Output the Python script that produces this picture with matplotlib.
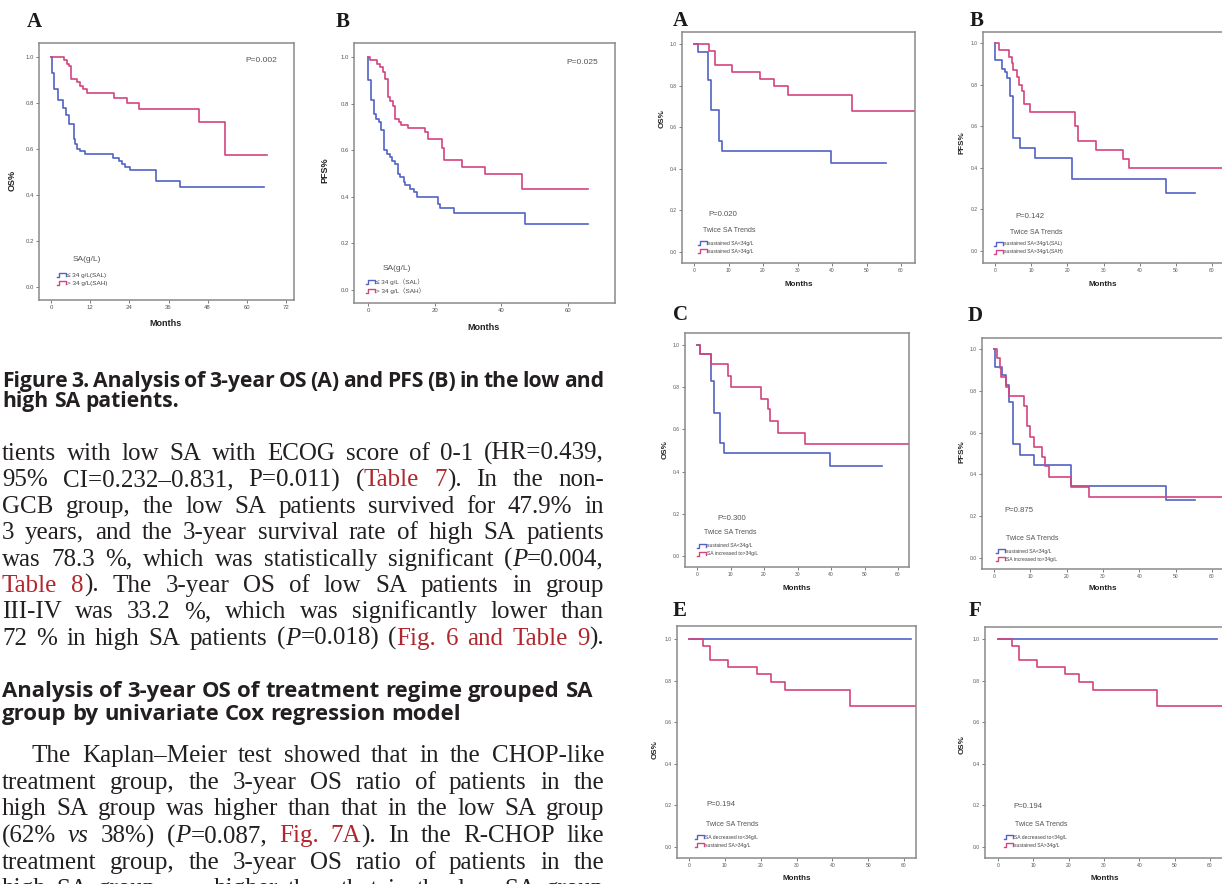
import matplotlib
matplotlib.use('Agg')
import matplotlib.pyplot as plt
from matplotlib.lines import Line2D

# ---- survival curve data (months, survival fraction) ----
# left panel A: OS by SA level
oa_low_t = [0, 0.3, 1.0, 2.0, 3.8, 4.5, 5.5, 7.0, 7.5, 8.0, 9.0, 10.4, 19.1, 20.7, 21.7, 22.7, 24.2, 32.2, 39.4, 65.4]
oa_low_s = [1.0, 0.93, 0.86, 0.815, 0.78, 0.75, 0.71, 0.645, 0.62, 0.60, 0.59, 0.578, 0.56, 0.55, 0.535, 0.52, 0.507, 0.46, 0.436, 0.436]
oa_high_t = [0, 4.0, 4.8, 5.5, 6.1, 8.1, 8.9, 9.9, 11.1, 19.3, 23.2, 27.1, 45.4, 53.4, 66.2]
oa_high_s = [1.0, 0.985, 0.97, 0.96, 0.904, 0.89, 0.875, 0.86, 0.845, 0.823, 0.80, 0.773, 0.717, 0.575, 0.575]
# left panel B: PFS by SA level
pb_low_t = [0, 0.1, 0.9, 1.7, 2.5, 3.2, 4.0, 4.9, 5.7, 6.5, 7.2, 8.0, 8.9, 9.7, 10.7, 11.2, 12.7, 13.7, 14.7, 20.9, 21.6, 25.9, 47.1, 66.0]
pb_low_s = [1.0, 0.903, 0.815, 0.755, 0.735, 0.72, 0.685, 0.60, 0.585, 0.57, 0.555, 0.54, 0.50, 0.485, 0.465, 0.45, 0.435, 0.42, 0.40, 0.368, 0.35, 0.33, 0.284, 0.284]
pb_high_t = [0, 0.7, 2.7, 3.7, 4.5, 5.2, 6.0, 6.7, 7.5, 8.0, 9.2, 10.0, 12.0, 17.1, 18.1, 22.1, 22.8, 28.1, 35.1, 46.1, 66.0]
pb_high_s = [1.0, 0.985, 0.97, 0.955, 0.935, 0.905, 0.83, 0.81, 0.79, 0.735, 0.72, 0.71, 0.695, 0.68, 0.65, 0.61, 0.56, 0.53, 0.497, 0.435, 0.435]
# right panels: twice SA trends
ra_low_t = [0, 1.2, 4.1, 5.0, 7.3, 8.1, 39.6, 55.6]
ra_low_s = [1.0, 0.96, 0.828, 0.683, 0.535, 0.487, 0.427, 0.427]
ra_high_t = [0, 4.3, 6.0, 11.1, 19.1, 23.3, 27.3, 45.7, 65.0]
ra_high_s = [1.0, 0.967, 0.90, 0.867, 0.833, 0.80, 0.755, 0.68, 0.68]
rb_low_t = [0, 0.05, 2.0, 2.8, 3.2, 4.2, 5.1, 6.9, 11.1, 21.2, 47.3, 55.2]
rb_low_s = [1.0, 0.92, 0.875, 0.86, 0.83, 0.745, 0.545, 0.495, 0.445, 0.345, 0.277, 0.277]
rb_high_t = [0, 1.1, 4.0, 4.6, 5.1, 6.0, 6.5, 7.4, 8.1, 9.8, 22.2, 22.9, 28.0, 35.3, 37.1, 66.0]
rb_high_s = [1.0, 0.967, 0.935, 0.905, 0.87, 0.835, 0.80, 0.77, 0.705, 0.67, 0.60, 0.53, 0.485, 0.44, 0.397, 0.397]
rc_low_t = [0, 1.0, 4.2, 5.0, 7.0, 8.0, 39.6, 55.2]
rc_low_s = [1.0, 0.955, 0.83, 0.68, 0.535, 0.487, 0.427, 0.427]
rc_up_t = [0, 1.0, 4.2, 9.2, 10.1, 19.1, 21.1, 21.9, 24.2, 32.1, 65.0]
rc_up_s = [1.0, 0.955, 0.91, 0.855, 0.80, 0.745, 0.695, 0.64, 0.585, 0.533, 0.533]
rd_low_t = [0, 0.2, 2.3, 3.2, 4.1, 5.1, 7.1, 11.0, 21.2, 47.3, 55.2]
rd_low_s = [1.0, 0.915, 0.875, 0.83, 0.745, 0.545, 0.495, 0.445, 0.345, 0.277, 0.277]
rd_up_t = [0, 0.9, 1.6, 2.0, 3.2, 4.1, 8.2, 9.1, 10.0, 11.0, 13.1, 14.0, 15.1, 21.1, 26.2, 66.0]
rd_up_s = [1.0, 0.955, 0.91, 0.865, 0.82, 0.775, 0.725, 0.63, 0.58, 0.53, 0.485, 0.44, 0.387, 0.34, 0.29, 0.29]
re_down_t = [0, 62.0]
re_down_s = [1.0, 1.0]
re_high_t = [0, 3.9, 6.0, 10.9, 19.0, 23.0, 26.9, 44.9, 66.0]
re_high_s = [1.0, 0.967, 0.90, 0.867, 0.833, 0.795, 0.755, 0.68, 0.68]

yticks = [0.0, 0.2, 0.4, 0.6, 0.8, 1.0]
xticks_a = [0, 12, 24, 36, 48, 60, 72]
xticks_b = [0, 20, 40, 60]
xticks_r = [0, 10, 20, 30, 40, 50, 60]

caption = ["Figure 3. Analysis of 3-year OS (A) and PFS (B) in the low and",
           "high SA patients."]
para1 = ["tients with low SA with ECOG score of 0-1 (HR=0.439,",
         "95% CI=0.232\u20130.831, P=0.011) ([Table 7]). In the non-",
         "GCB group, the low SA patients survived for 47.9% in",
         "3 years, and the 3-year survival rate of high SA patients",
         "was 78.3 %, which was statistically significant (<P>=0.004,",
         "[Table 8]). The 3-year OS of low SA patients in group",
         "III-IV was 33.2 %, which was significantly lower than",
         "72 % in high SA patients (<P>=0.018) ([Fig. 6 and Table 9])."]
heading = ["Analysis of 3-year OS of treatment regime grouped SA",
           "group by univariate Cox regression model"]
para2 = ["The Kaplan\u2013Meier test showed that in the CHOP-like",
         "treatment group, the 3-year OS ratio of patients in the",
         "high SA group was higher than that in the low SA group",
         "(62% <vs> 38%) (<P>=0.087, [Fig. 7A]). In the R-CHOP like",
         "treatment group, the 3-year OS ratio of patients in the",
         "high SA group was higher than that in the low SA group"]

W, H = 1222, 884
fig = plt.figure(figsize=(W / 100, H / 100), dpi=100)
fig.patch.set_facecolor('white')

BLUE = '#5262c6'
PINK = '#d4447e'
TXT = '#231f20'
RED = '#b1272d'
SMALL = '#555555'
SANS = ['Liberation Sans', 'DejaVu Sans', 'Noto Sans CJK SC']


def fx(x):
    return x / W


def fy(y):
    return 1 - y / H


def km_panel(box, x0px, xrefpx, xref, y1px, y0px, xticks, curves, tsize):
    l, t, r, b = box
    ax = fig.add_axes([fx(l), fy(b), (r - l) / W, (b - t) / H])
    pxm = (xrefpx - x0px) / xref
    pyu = y0px - y1px
    ax.set_xlim((l - x0px) / pxm, (r - x0px) / pxm)
    ax.set_ylim((y0px - b) / pyu, (y0px - t) / pyu)
    for tt, ss, c in curves:
        ax.step(tt, ss, where='post', color=c, lw=1.2)
    ax.set_xticks(xticks)
    ax.set_xticklabels([str(v) for v in xticks])
    ax.set_yticks(yticks)
    ax.set_yticklabels(['%.1f' % v for v in yticks])
    ax.tick_params(labelsize=tsize, colors='#666666', labelcolor='#555555',
                   length=2.5, width=0.6, pad=1.2)
    for lab in ax.get_xticklabels() + ax.get_yticklabels():
        lab.set_family(SANS)
    for sp in ax.spines.values():
        sp.set_color('#8a8a8a')
        sp.set_linewidth(1.1)
    return ax


def legend_item(x, y, color, label, size):
    xs = [x, x + 2, x + 2, x + 9, x + 9]
    ys = [y + 2, y + 2, y - 2, y - 2, y + 1]
    fig.add_artist(Line2D([fx(v) for v in xs], [fy(v) for v in ys],
                          color=color, lw=1.0, transform=fig.transFigure))
    fig.text(fx(x + 10), fy(y), label, fontsize=size, color='#444444',
             family=SANS, va='center', ha='left')


def ptext(x, y, s, size, ha='left'):
    fig.text(fx(x), fy(y), s, fontsize=size, color=SMALL, family=SANS,
             va='center', ha=ha)


def letter(x, yb, s):
    fig.text(fx(x), fy(yb), s, fontsize=15, weight='bold', family='Liberation Serif',
             color='#1a1a1a', va='baseline', ha='left')


def axis_labels(xl, yl, xtxt, ylab, size):
    fig.text(fx(xl[0]), fy(xl[1]), xtxt, fontsize=size, weight='bold', family=SANS,
             color='#222222', ha='center', va='center')
    fig.text(fx(yl[0]), fy(yl[1]), ylab, fontsize=size, weight='bold', family=SANS,
             color='#222222', ha='center', va='center', rotation=90)


# ---- left panels ----
km_panel((39, 43, 294, 300), 51, 286, 72, 57, 287, xticks_a,
         [(oa_low_t, oa_low_s, BLUE), (oa_high_t, oa_high_s, PINK)], 4.3)
letter(27, 27, 'A')
ptext(277, 60, 'P=0.002', 6.0, ha='right')
ptext(73, 259, 'SA(g/L)', 6.0)
legend_item(57, 275, BLUE, '\u2264 34 g/L(SAL)', 4.6)
legend_item(57, 283, PINK, '> 34 g/L(SAH)', 4.6)
axis_labels((165, 323), (12, 180), 'Months', 'OS%', 6.5)

km_panel((354, 43, 615, 303), 368, 568, 60, 57, 290, xticks_b,
         [(pb_low_t, pb_low_s, BLUE), (pb_high_t, pb_high_s, PINK)], 4.3)
letter(336, 27, 'B')
ptext(598, 62, 'P=0.025', 6.0, ha='right')
ptext(383, 268, 'SA(g/L)', 6.0)
legend_item(366, 282, BLUE, '\u2264 34 g/L\uff08SAL\uff09', 4.6)
legend_item(366, 291, PINK, '> 34 g/L\uff08SAH\uff09', 4.6)
axis_labels((484, 327), (325, 170), 'Months', 'PFS%', 6.5)

# ---- right panels ----
right = [
    ((682, 32, 915, 263), 694, 901, 44, 252, (ra_low_t, ra_low_s), (ra_high_t, ra_high_s),
     'A', (673, 26), 'P=0.020', (708, 215), (703, 230), (698, 243, 251),
     ['sustained SA<34g/L', 'sustained SA>34g/L'], (799, 285), (662, 119), 'OS%'),
    ((983, 32, 1227, 263), 995, 1212, 43, 251, (rb_low_t, rb_low_s), (rb_high_t, rb_high_s),
     'B', (970, 26), 'P=0.142', (1015, 217), (1010, 232), (994, 244, 252),
     ['sustained SA<34g/L(SAL)', 'sustained SA>34g/L(SAH)'], (1103, 284), (962, 143), 'PFS%'),
    ((685, 333, 909, 567), 697, 898, 345, 556, (rc_low_t, rc_low_s), (rc_up_t, rc_up_s),
     'C', (673, 320), 'P=0.300', (717, 518), (704, 533), (697, 546, 554),
     ['sustained SA<34g/L', 'SA increased to>34g/L'], (797, 589), (665, 450), 'OS%'),
    ((982, 338, 1227, 569), 994, 1212, 349, 558, (rd_low_t, rd_low_s), (rd_up_t, rd_up_s),
     'D', (968, 321), 'P=0.875', (1004, 511), (1006, 539), (996, 551, 559),
     ['sustained SA<34g/L', 'SA increased to>34g/L'], (1103, 589), (962, 452), 'PFS%'),
    ((677, 626, 916, 858), 689, 904, 639, 847, (re_down_t, re_down_s), (re_high_t, re_high_s),
     'E', (673, 616), 'P=0.194', (706, 805), (706, 824), (695, 837, 845),
     ['SA decreased to<34g/L', 'sustained SA>34g/L'], (797, 878), (655, 750), 'OS%'),
    ((985, 627, 1227, 858), 998, 1210, 639, 847, (re_down_t, re_down_s), (re_high_t, re_high_s),
     'F', (969, 616), 'P=0.194', (1013, 806), (1015, 824), (1004, 837, 845),
     ['SA decreased to<34g/L', 'sustained SA>34g/L'], (1105, 878), (962, 745), 'OS%'),
]
for (box, x0, x60, y1, y0, c1, c2, let, lpos, ptxt, ppos, tpos, sym,
     labs, xlpos, ylpos, ylab) in right:
    km_panel(box, x0, x60, 60, y1, y0, xticks_r,
             [(c1[0], c1[1], BLUE), (c2[0], c2[1], PINK)], 3.6)
    letter(lpos[0], lpos[1], let)
    ptext(ppos[0], ppos[1], ptxt, 5.6)
    ptext(tpos[0], tpos[1], 'Twice SA Trends', 5.0)
    legend_item(sym[0], sym[1], BLUE, labs[0], 3.6)
    legend_item(sym[0], sym[2], PINK, labs[1], 3.6)
    axis_labels(xlpos, ylpos, 'Months', ylab, 5.8)

# ---- article text ----
renderer = fig.canvas.get_renderer()


def parse(line):
    words, cur, buf, style = [], [], '', 'n'
    for ch in line:
        if ch in '[]<> ':
            if buf:
                cur.append((buf, style))
                buf = ''
            if ch == ' ':
                if cur:
                    words.append(cur)
                    cur = []
            elif ch == '[':
                style = 'r'
            elif ch == '<':
                style = 'i'
            else:
                style = 'n'
        else:
            buf += ch
    if buf:
        cur.append((buf, style))
    if cur:
        words.append(cur)
    return words


def width_of(s, size, family, weight):
    t = fig.text(0, 0, s, fontsize=size, family=family, weight=weight)
    w = t.get_window_extent(renderer).width
    t.remove()
    return w


def set_line(line, x0, x1, yb, size, family, weight='normal', justify=True):
    words = parse(line)
    placed, widths = [], []
    for w in words:
        segs, ww = [], 0
        for s, st in w:
            t = fig.text(0, fy(yb), s, fontsize=size, family=family, weight=weight,
                         style='italic' if st == 'i' else 'normal',
                         color=RED if st == 'r' else TXT, va='baseline', ha='left')
            segs.append((t, ww))
            ww += t.get_window_extent(renderer).width
        placed.append(segs)
        widths.append(ww)
    space = width_of('a a', size, family, weight) - width_of('aa', size, family, weight)
    if justify and len(words) > 1:
        gap = (x1 - x0 - sum(widths)) / (len(words) - 1)
    else:
        gap = space
    x = x0
    for segs, ww in zip(placed, widths):
        for t, off in segs:
            t.set_x(fx(x + off))
        x += ww + gap


HEAD = ['Open Sans', 'DejaVu Sans']
hsize = 13 * 588 / width_of(heading[0], 13, HEAD, 'bold')
set_line(caption[0], 2, 604, 387, hsize * 0.95, HEAD, 'bold', True)
set_line(caption[1], 2, 604, 407, hsize * 0.95, HEAD, 'bold', False)

BODY = ['Liberation Serif', 'DejaVu Serif']
for i, ln in enumerate(para1):
    set_line(ln, 2, 604, 460 + 26.4 * i, 18, BODY)

set_line(heading[0], 2, 604, 697, hsize, HEAD, 'bold', False)
set_line(heading[1], 2, 604, 720, hsize, HEAD, 'bold', False)

for i, ln in enumerate(para2):
    set_line(ln, 32 if i == 0 else 2, 604, 762 + 26.7 * i, 18, BODY)

fig.savefig('out.png', dpi=100)
